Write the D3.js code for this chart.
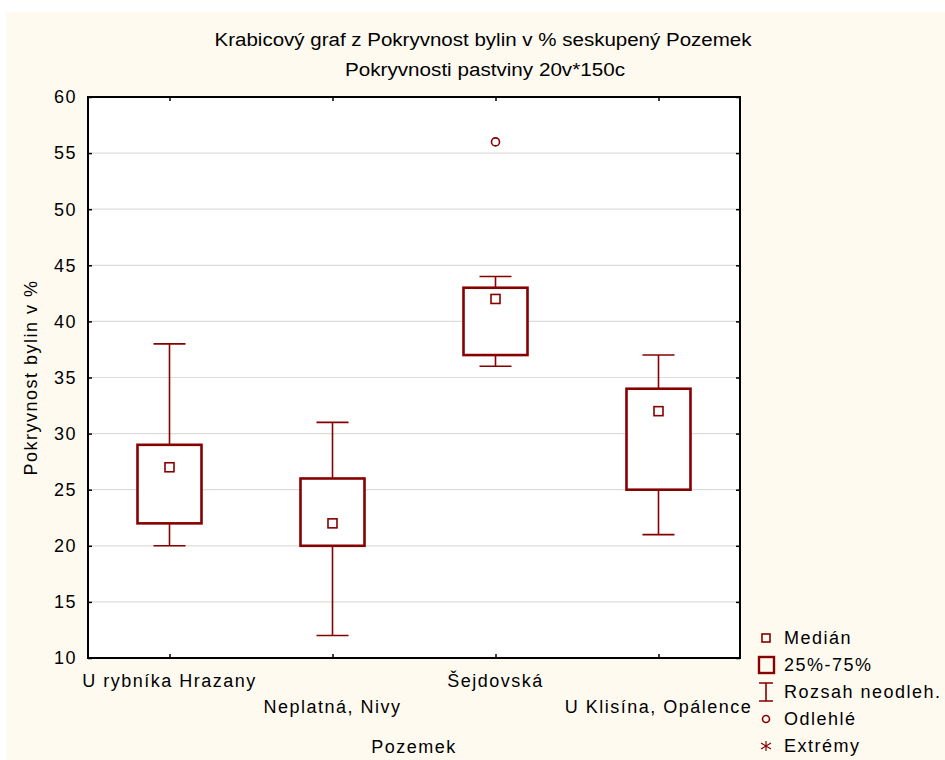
<!DOCTYPE html>
<html>
<head>
<meta charset="utf-8">
<script src="https://cdn.jsdelivr.net/npm/d3@7"></script>
<style>
  html, body { margin: 0; padding: 0; background: #ffffff; }
  svg { display: block; font-family: "Liberation Sans", Arial, sans-serif; }
  .lbl { font-size: 18px; letter-spacing: 1.5px; fill: #000; }
</style>
</head>
<body>
<svg id="chart" width="945" height="760"></svg>
<script>
// Groups (Pozemek) and their box-plot statistics
const categories = ["U rybníka Hrazany", "Neplatná, Nivy", "Šejdovská", "U Klisína, Opálence"];
const medians    = [27, 22, 42, 32];
const q1         = [22, 20, 37, 25];
const q3         = [29, 26, 43, 34];
const whiskerLo  = [20, 12, 36, 21];
const whiskerHi  = [38, 31, 44, 37];
const outliers   = [[], [], [56], []];
const yTicks     = [10, 15, 20, 25, 30, 35, 40, 45, 50, 55, 60];
const legendLabels = ["Medián", "25%-75%", "Rozsah neodleh.", "Odlehlé", "Extrémy"];

const titleLines = ["Krabicový graf z Pokryvnost bylin v % seskupený Pozemek",
                    "Pokryvnosti pastviny 20v*150c"];
const xTitle = "Pozemek";
const yTitle = "Pokryvnost bylin v %";

const RED = "#870000";
const svg = d3.select("#chart");

// cream page background
svg.append("rect").attr("x", 6).attr("y", 12).attr("width", 939).attr("height", 748)
   .attr("fill", "#fffaf0");

const plot = { left: 88, right: 740, top: 97, bottom: 658 };

const x = d3.scalePoint().domain(categories)
  .range([plot.left, plot.right]).padding(0.5);
const y = d3.scaleLinear().domain([10, 60]).range([plot.bottom, plot.top]);

// plot area
svg.append("rect")
  .attr("x", plot.left).attr("y", plot.top)
  .attr("width", plot.right - plot.left).attr("height", plot.bottom - plot.top)
  .attr("fill", "#ffffff");

// horizontal grid lines
svg.append("g").selectAll("line").data(yTicks.slice(1, -1)).join("line")
  .attr("x1", plot.left).attr("x2", plot.right)
  .attr("y1", d => y(d)).attr("y2", d => y(d))
  .attr("stroke", "#dcdcdc").attr("stroke-width", 1.2);

// axes with inward ticks
const tickLen = 4;
const gLeft = svg.append("g").attr("transform", `translate(${plot.left},0)`)
  .call(d3.axisRight(y).tickValues(yTicks).tickSize(tickLen).tickFormat(""));
const gRight = svg.append("g").attr("transform", `translate(${plot.right},0)`)
  .call(d3.axisLeft(y).tickValues(yTicks).tickSize(tickLen).tickFormat(""));
const gBottom = svg.append("g").attr("transform", `translate(0,${plot.bottom})`)
  .call(d3.axisTop(x).tickSize(tickLen).tickFormat(""));
const gTop = svg.append("g").attr("transform", `translate(0,${plot.top})`)
  .call(d3.axisBottom(x).tickSize(tickLen).tickFormat(""));
[gLeft, gRight, gBottom, gTop].forEach(g => {
  g.select(".domain").remove();
  g.selectAll(".tick line").attr("stroke", "#000").attr("stroke-width", 1.5);
});

// plot frame
svg.append("rect")
  .attr("x", plot.left).attr("y", plot.top)
  .attr("width", plot.right - plot.left).attr("height", plot.bottom - plot.top)
  .attr("fill", "none").attr("stroke", "#000").attr("stroke-width", 2);

// y tick labels
svg.append("g").selectAll("text").data(yTicks).join("text")
  .attr("class", "lbl")
  .attr("x", 77).attr("y", d => y(d)).attr("dy", "0.35em")
  .attr("text-anchor", "end")
  .text(d => d);

// x category labels (staggered)
svg.append("g").selectAll("text").data(categories).join("text")
  .attr("class", "lbl")
  .attr("x", d => x(d)).attr("y", (d, i) => i % 2 === 0 ? 687 : 713)
  .attr("text-anchor", "middle")
  .text(d => d);

// axis titles
svg.append("text").attr("class", "lbl")
  .attr("x", (plot.left + plot.right) / 2).attr("y", 753)
  .attr("text-anchor", "middle").text(xTitle);
svg.append("text").attr("class", "lbl")
  .attr("transform", `translate(37,${(plot.top + plot.bottom) / 2}) rotate(-90)`)
  .attr("text-anchor", "middle").text(yTitle);

// chart title (condensed)
svg.append("g").selectAll("text").data(titleLines).join("text")
  .attr("x", (d, i) => i === 0 ? 483 : 485).attr("y", (d, i) => i === 0 ? 46 : 76)
  .attr("text-anchor", "middle").attr("font-size", 18)
  .attr("textLength", (d, i) => i === 0 ? 537 : 280)
  .attr("lengthAdjust", "spacingAndGlyphs")
  .text(d => d);

// boxes
const boxW = 64, capW = 32, medS = 9;
const boxes = svg.append("g").selectAll("g").data(categories).join("g");

boxes.append("line") // upper whisker
  .attr("x1", d => x(d)).attr("x2", d => x(d))
  .attr("y1", (d, i) => y(q3[i])).attr("y2", (d, i) => y(whiskerHi[i]))
  .attr("stroke", RED).attr("stroke-width", 1.6);
boxes.append("line") // lower whisker
  .attr("x1", d => x(d)).attr("x2", d => x(d))
  .attr("y1", (d, i) => y(q1[i])).attr("y2", (d, i) => y(whiskerLo[i]))
  .attr("stroke", RED).attr("stroke-width", 1.6);
boxes.append("line") // upper cap
  .attr("x1", d => x(d) - capW / 2).attr("x2", d => x(d) + capW / 2)
  .attr("y1", (d, i) => y(whiskerHi[i])).attr("y2", (d, i) => y(whiskerHi[i]))
  .attr("stroke", RED).attr("stroke-width", 1.6);
boxes.append("line") // lower cap
  .attr("x1", d => x(d) - capW / 2).attr("x2", d => x(d) + capW / 2)
  .attr("y1", (d, i) => y(whiskerLo[i])).attr("y2", (d, i) => y(whiskerLo[i]))
  .attr("stroke", RED).attr("stroke-width", 1.6);
boxes.append("rect") // interquartile box
  .attr("x", d => x(d) - boxW / 2).attr("width", boxW)
  .attr("y", (d, i) => y(q3[i])).attr("height", (d, i) => y(q1[i]) - y(q3[i]))
  .attr("fill", "#fff").attr("stroke", RED).attr("stroke-width", 2.6);
boxes.append("rect") // median marker
  .attr("x", d => x(d) - medS / 2).attr("width", medS)
  .attr("y", (d, i) => y(medians[i]) - medS / 2).attr("height", medS)
  .attr("fill", "#fff").attr("stroke", RED).attr("stroke-width", 1.6);
boxes.each(function (d, i) {
  d3.select(this).selectAll("circle.out").data(outliers[i]).join("circle")
    .attr("class", "out")
    .attr("cx", x(d)).attr("cy", v => y(v)).attr("r", 4)
    .attr("fill", "#fff").attr("stroke", RED).attr("stroke-width", 1.6);
});

// legend
const lg = svg.append("g");
const lx = 766, ly = [638, 665, 692, 719, 746];
lg.selectAll("text").data(legendLabels).join("text")
  .attr("class", "lbl")
  .attr("x", 784).attr("y", (d, i) => ly[i]).attr("dy", "0.35em")
  .text(d => d);
// median symbol
lg.append("rect").attr("x", lx - 4).attr("y", ly[0] - 4).attr("width", 8).attr("height", 8)
  .attr("fill", "none").attr("stroke", RED).attr("stroke-width", 1.6);
// box symbol
lg.append("rect").attr("x", lx - 7).attr("y", ly[1] - 8).attr("width", 15).attr("height", 16)
  .attr("fill", "none").attr("stroke", RED).attr("stroke-width", 2.4);
// whisker symbol
lg.append("path")
  .attr("d", `M${lx - 7},${ly[2] - 9}H${lx + 7}M${lx},${ly[2] - 9}V${ly[2] + 9}M${lx - 7},${ly[2] + 9}H${lx + 7}`)
  .attr("fill", "none").attr("stroke", RED).attr("stroke-width", 1.6);
// outlier symbol
lg.append("circle").attr("cx", lx).attr("cy", ly[3]).attr("r", 3.5)
  .attr("fill", "none").attr("stroke", RED).attr("stroke-width", 1.6);
// extreme symbol (asterisk)
lg.append("path")
  .attr("d", `M${lx},${ly[4] - 5}V${ly[4] + 5}M${lx - 5},${ly[4] - 3}L${lx + 5},${ly[4] + 3}M${lx - 5},${ly[4] + 3}L${lx + 5},${ly[4] - 3}`)
  .attr("fill", "none").attr("stroke", RED).attr("stroke-width", 1.2);
</script>
</body>
</html>
